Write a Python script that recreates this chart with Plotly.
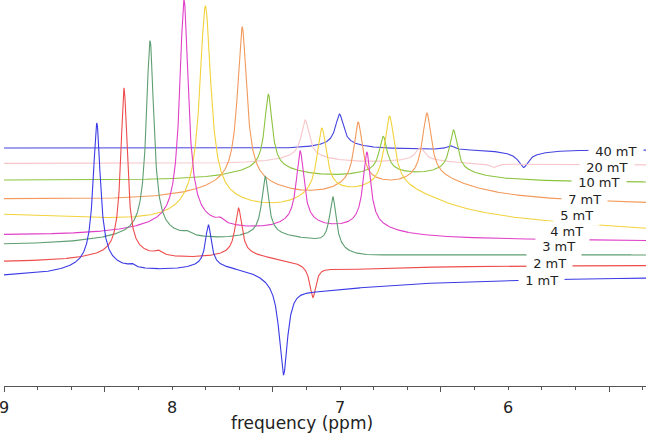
import numpy as np
import plotly.graph_objects as go

# ── field series, front (1 mT) to back (40 mT) ─────────────────────
FIELDS = ["1 mT", "2 mT", "3 mT", "4 mT", "5 mT", "7 mT", "10 mT", "20 mT", "40 mT"]
COLORS = ["#3a3ae6", "#ee4c4c", "#5e9e72", "#e040c8", "#f2d23c",
          "#f39a5c", "#8cc440", "#f7c6c9", "#4444e0"]

# baseline (stacking offset) at 9.0 ppm and at the right edge
BASE_LEFT = [106.5, 122.5, 139.0, 150.0, 175.0, 187.4, 205.5, 222.5, 238.0]
BASE_RIGHT = [110.5, 121.5, 132.0, 145.0, 152.0, 180.2, 203.5, 221.0, 236.0]

# label anchors (ppm, stacked intensity)
LABEL_PPM = [5.804, 5.753, 5.702, 5.652, 5.595, 5.545, 5.461, 5.411, 5.360]
LABEL_Y = [106.0, 122.7, 139.3, 155.0, 170.3, 187.0, 203.3, 218.3, 235.0]

# peaks: (centre ppm, absorptive height, half width ppm, dispersive height)
PEAKS_1MT = [(8.448, 141, 0.026, 0), (8.448, 10, 0.20, 0), (8.240, 3, 0.020, 0),
             (7.784, 41, 0.021, 0), (7.784, 5, 0.15, 0),
             (7.3375, -92, 0.030, 0), (7.3375, -6, 0.30, 19)]
PEAKS_2MT = [(8.286, 165, 0.023, 0), (8.286, 8, 0.25, 0), (8.083, 4, 0.024, 0),
             (7.605, 46, 0.024, 0), (7.605, 6, 0.18, 0),
             (7.1625, -32, 0.022, 0), (7.1625, -3, 0.30, 8)]
PEAKS_3MT = [(8.131, 193, 0.027, 0), (8.131, 12, 0.35, 0), (7.9125, 3, 0.024, 0),
             (7.446, 58, 0.024, 0), (7.446, 8, 0.20, 0),
             (7.0435, 51, 0.024, 0), (7.0435, 0, 0.20, 12)]
PEAKS_4MT = [(7.929, 222, 0.031, 0), (7.929, 14, 0.33, 0), (7.714, 4, 0.024, 0),
             (7.238, 72, 0.027, 0), (7.238, 10, 0.20, 0),
             (6.841, 73, 0.027, 0), (6.841, 10, 0.20, 0)]
PEAKS_5MT = [(7.802, 198, 0.040, 0), (7.802, 15, 0.27, -12),
             (7.109, 65, 0.034, 0), (7.109, 18, 0.27, -8),
             (6.7065, 70, 0.036, 0), (6.7065, 25, 0.30, -10)]
PEAKS_7MT = [(7.583, 155, 0.033, 0), (7.583, 20, 0.30, 0),
             (6.893, 60, 0.030, 0), (6.893, 15, 0.22, -5),
             (6.484, 64, 0.032, 0), (6.484, 19, 0.25, -8)]
PEAKS_10MT = [(7.427, 74, 0.027, 0), (7.427, 12, 0.25, 0),
              (6.744, 35, 0.028, 0), (6.744, 7, 0.20, 0),
              (6.326, 41, 0.028, 0), (6.326, 9, 0.20, 0)]
PEAKS_20MT = [(7.208, 37, 0.028, 0), (7.208, 7, 0.20, 0),
              (6.524, 12, 0.032, 0), (6.524, 4, 0.20, 0),
              (6.089, -4, 0.026, 0)]
PEAKS_40MT = [(7.004, 30, 0.028, 0), (7.004, 5, 0.15, 0), (6.345, 4, 0.026, 0),
              (5.909, -14, 0.034, 0), (5.909, -4, 0.15, 0)]
PEAKS = [PEAKS_1MT, PEAKS_2MT, PEAKS_3MT, PEAKS_4MT, PEAKS_5MT,
         PEAKS_7MT, PEAKS_10MT, PEAKS_20MT, PEAKS_40MT]

X_LEFT, X_RIGHT = 9.0, 5.18
TICK_LABELS = {9.0: "9", 8.0: "8", 7.0: "7", 6.0: "6"}
LONG_TICKS = [9.0, 8.4, 7.4, 6.4, 5.4]

ppm = np.linspace(X_LEFT, X_RIGHT, 2400)


def spectrum(peaks, b0, b1):
    y = b0 + (b1 - b0) * (X_LEFT - ppm) / (X_LEFT - X_RIGHT)
    for c, h, w, d in peaks:
        u = (ppm - c) / w
        y = y + (h + d * u) / (1 + u ** 2)
    return y


fig = go.Figure()
for i in reversed(range(len(FIELDS))):
    fig.add_trace(go.Scatter(
        x=ppm, y=spectrum(PEAKS[i], BASE_LEFT[i], BASE_RIGHT[i]),
        mode="lines", line=dict(color=COLORS[i], width=1.1),
        name=FIELDS[i], hoverinfo="skip"))

# empty trace so the long-tick overlay axis gets drawn
fig.add_trace(go.Scatter(x=[], y=[], xaxis="x2", showlegend=False))

for i, lab in enumerate(FIELDS):
    fig.add_annotation(x=LABEL_PPM[i], y=LABEL_Y[i], text="\u00a0" + lab + "\u00a0",
                       showarrow=False, bgcolor="white", borderpad=2,
                       xanchor="center", yanchor="middle",
                       font=dict(family="DejaVu Sans", size=13, color="#222222"))

fig.add_annotation(x=(302 - 4) / 642, y=-0.097, xref="paper", yref="paper",
                   text="frequency (ppm)", showarrow=False,
                   xanchor="center", yanchor="middle",
                   font=dict(family="DejaVu Sans", size=17, color="#222222"))

tickvals = [round(X_LEFT - 0.2 * k, 1) for k in range(20)]
fig.update_layout(
    width=646, height=434,
    margin=dict(l=4, r=0, t=0, b=48),
    paper_bgcolor="white", plot_bgcolor="white",
    showlegend=False,
    xaxis=dict(range=[X_LEFT, X_RIGHT], tickvals=tickvals,
               ticktext=[TICK_LABELS.get(v, "") for v in tickvals],
               ticks="outside", ticklen=3, tickcolor="#555555",
               showline=True, linecolor="#555555", linewidth=1,
               showgrid=False, zeroline=False, ticklabelstandoff=4,
               ticklabeloverflow="allow", automargin=False,
               tickfont=dict(family="DejaVu Sans", size=16, color="#222222")),
    xaxis2=dict(range=[X_LEFT, X_RIGHT], overlaying="x", anchor="y", side="bottom",
                tickvals=LONG_TICKS, ticks="outside", ticklen=5, tickcolor="#555555",
                showticklabels=False, showline=False, showgrid=False, zeroline=False),
    yaxis=dict(range=[0, 386], visible=False),
)

fig.write_html("out.html", config={"displayModeBar": False},
               post_script="document.body.style.margin = '0';")
